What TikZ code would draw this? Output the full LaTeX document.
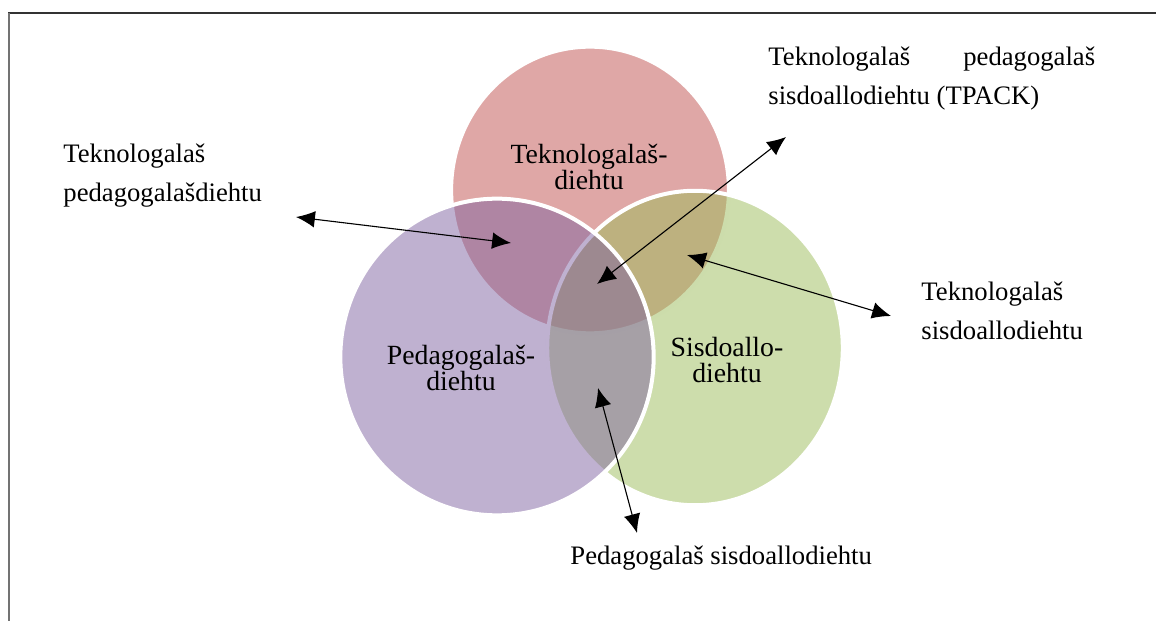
\documentclass[tikz,border=0pt]{standalone}
\usepackage{fontspec}
\setmainfont{Liberation Serif}
\usetikzlibrary{arrows.meta, positioning, shapes.geometric}
\definecolor{techred}{HTML}{C0504D}
\definecolor{pedpurple}{HTML}{8064A2}
\definecolor{contgreen}{HTML}{9BBB59}
\tikzset{
    setnode/.style={ellipse, draw=white, line width=1.8pt, fill opacity=0.5, draw opacity=1, inner sep=0pt, outer sep=0pt},
    rednode/.style={setnode, fill=techred, minimum width=125pt, minimum height=129pt},
    greennode/.style={setnode, fill=contgreen, minimum width=133pt, minimum height=141.5pt},
    purplenode/.style={setnode, fill=pedpurple, minimum width=141pt, minimum height=142.5pt},
    setlabel/.style={align=center, font=\fontsize{12.5}{11.5}\selectfont, inner sep=0pt},
    mylabel/.style={align=left, anchor=north west, font=\fontsize{12}{17.5}\selectfont, inner sep=0pt},
    myarrow/.style={<->, >={Latex[length=8.5pt,width=7.5pt]}, line width=0.5pt}
}

\begin{document}
\begin{tikzpicture}[x=0.45pt, y=-0.45pt]
        \useasboundingbox (0,0) rectangle (1156,621);

        % ------------------
        % frame
        % ------------------

        \draw[line width=0.5pt, black!80] (8,13) -- (1156,13);
        \draw[line width=0.8pt, black!55] (9,13) -- (9,621);

        % ------------------
        % sets
        % ------------------

        \node[rednode] (tech) at (590,190) {};
        \node[greennode] (cont) at (695,348) {};
        \node[purplenode] (ped) at (497,357) {};

        \node[setlabel] (techtext) at (589,167) {Teknologalaš-\\diehtu};
        \node[setlabel] (pedtext) at (461,368) {Pedagogalaš-\\diehtu};
        \node[setlabel] (conttext) at (727,360) {Sisdoallo-\\diehtu};

        % ------------------
        % labels
        % ------------------

        \node[mylabel] (tplabel) at (63,144) {Teknologalaš\\pedagogalašdiehtu};
        \node[mylabel] (tpacklabel) at (768,47) {\makebox[147pt][s]{Teknologalaš pedagogalaš}\\sisdoallodiehtu (TPACK)};
        \node[mylabel] (tclabel) at (921,282) {Teknologalaš\\sisdoallodiehtu};
        \node[mylabel] (pclabel) at (570,545) {Pedagogalaš sisdoallodiehtu};

        % ------------------
        % arrows
        % ------------------

        \coordinate (tpout) at (296,217);
        \coordinate (tpin) at (511,243);
        \coordinate (tpackout) at (786,137);
        \coordinate (tpackin) at (597,284);
        \coordinate (tcin) at (687,255);
        \coordinate (tcout) at (891,316);
        \coordinate (pcin) at (598,388);
        \coordinate (pcout) at (637,533);

        \draw[myarrow] (tpout) -- (tpin);
        \draw[myarrow] (tpackout) -- (tpackin);
        \draw[myarrow] (tcin) -- (tcout);
        \draw[myarrow] (pcin) -- (pcout);

    \end{tikzpicture}
\end{document}
